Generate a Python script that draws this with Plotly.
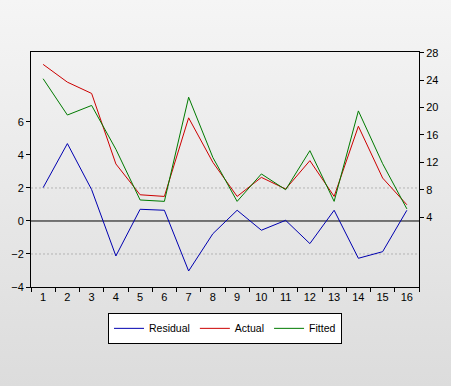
import base64
import plotly.graph_objects as go

obs = [str(i) for i in range(1, 17)]
residual = [2.02, 4.69, 1.9, -2.12, 0.71, 0.65, -3.03, -0.77, 0.65, -0.56, 0.04, -1.37, 0.65, -2.26, -1.86, 0.65]
actual = [26.29, 23.7, 22.05, 11.76, 7.26, 7.02, 18.49, 11.99, 7.02, 9.8, 8.1, 12.24, 7.02, 17.26, 9.7, 5.8]
fitted = [24.2, 18.9, 20.3, 13.9, 6.5, 6.3, 21.5, 12.7, 6.3, 10.3, 8.0, 13.7, 6.3, 19.5, 11.8, 5.2]
left_ticks = [-4, -2, 0, 2, 4, 6]
right_ticks = [4, 8, 12, 16, 20, 24, 28]
dashed_grid = [-2, 2]

W, H = 451, 386
ml, mr, mt, mb = 31, 32, 52, 99
pw, ph = W - ml - mr, H - mt - mb

svg = ('<svg xmlns="http://www.w3.org/2000/svg" width="451" height="386" preserveAspectRatio="none">'
       '<defs><linearGradient id="g" x1="0" y1="0" x2="0" y2="1">'
       '<stop offset="0" stop-color="#f5f5f5"/><stop offset="1" stop-color="#dcdcdc"/>'
       '</linearGradient></defs><rect width="451" height="386" fill="url(#g)"/></svg>')
src = "data:image/svg+xml;base64," + base64.b64encode(svg.encode()).decode()

fig = go.Figure()
fig.add_trace(go.Scatter(x=obs, y=residual, name="Residual", mode="lines",
                         line=dict(color="#0000b0", width=1), yaxis="y"))
fig.add_trace(go.Scatter(x=obs, y=actual, name="Actual", mode="lines",
                         line=dict(color="#cc0000", width=1), yaxis="y2"))
fig.add_trace(go.Scatter(x=obs, y=fitted, name="Fitted", mode="lines",
                         line=dict(color="#007a00", width=1), yaxis="y2"))

shapes = []
for g in dashed_grid:
    shapes.append(dict(type="line", xref="paper", x0=0, x1=1, yref="y", y0=g, y1=g,
                       line=dict(color="#b4b4b4", width=1, dash="2px,2px"), layer="below"))
shapes.append(dict(type="line", xref="paper", x0=0, x1=1, yref="y", y0=0, y1=0,
                   line=dict(color="black", width=1), layer="below"))

font = dict(family="Liberation Sans, Arial, sans-serif", size=11, color="black")
fig.update_layout(
    width=W, height=H,
    margin=dict(l=ml, r=mr, t=mt, b=mb),
    paper_bgcolor="#e8e8e8", plot_bgcolor="white",
    font=font,
    showlegend=True,
    legend=dict(orientation="h", x=0.5, xanchor="center", y=-0.11, yanchor="top",
                bgcolor="white", bordercolor="black", borderwidth=1, itemwidth=30,
                font=dict(family="Liberation Sans, Arial, sans-serif", size=10.5)),
    xaxis=dict(type="category", tickson="boundaries", ticks="outside", ticklen=4,
               tickcolor="black", showline=True, linecolor="black", linewidth=1,
               mirror=True, showgrid=False, zeroline=False, range=[-0.5, 15.5]),
    yaxis=dict(range=[-4, 10.24], tickvals=left_ticks, ticks="outside", ticklen=4,
               tickcolor="black", showline=True, linecolor="black", linewidth=1,
               mirror=True, showgrid=False, zeroline=False),
    yaxis2=dict(range=[-6.2, 28.1], tickvals=right_ticks, overlaying="y", side="right",
                ticks="outside", ticklen=4, tickcolor="black", showline=True,
                linecolor="black", linewidth=1, showgrid=False, zeroline=False),
    shapes=shapes,
    images=[dict(source=src, xref="paper", yref="paper", x=-ml / pw, y=1 + mt / ph,
                 sizex=W / pw, sizey=H / ph, sizing="stretch", layer="below",
                 xanchor="left", yanchor="top")],
)
fig.write_html("out.html", config={"displayModeBar": False},
               post_script="document.body.style.margin='0';")
